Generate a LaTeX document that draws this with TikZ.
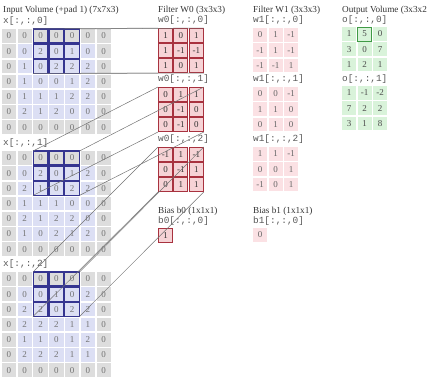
\documentclass[tikz,border=0pt]{standalone}
\usepackage{fontspec}
\setmainfont{Liberation Serif}
\setmonofont{Liberation Mono}
\definecolor{padc}{HTML}{DDDDDD}
\definecolor{inc}{HTML}{DCDFF4}
\definecolor{wc}{HTML}{F6D3D6}
\definecolor{wline}{HTML}{A8323F}
\definecolor{wonec}{HTML}{FBE1E4}
\definecolor{oc}{HTML}{D9F3DA}
\definecolor{oline}{HTML}{3F9A45}
\definecolor{winline}{HTML}{353590}
\definecolor{linkc}{gray}{0.45}
\tikzset{
  capt/.style={font=\fontsize{9.2}{10}\selectfont,text=black!80,anchor=west,inner sep=0pt},
  lab/.style={font=\ttfamily\fontsize{9.4}{10}\selectfont,text=black!65,anchor=west,inner sep=0pt},
  cell/.style={rectangle,inner sep=0pt,minimum width=14pt,minimum height=13.6pt,anchor=north west,font=\fontsize{9}{10}\selectfont},
  incell/.style={cell,minimum width=14.4pt,text=black!55},
  wcell/.style={cell,fill=wc,draw=wline,line width=1pt,text=black!80},
  wonecell/.style={cell,fill=wonec,text=black!60},
  ocell/.style={cell,fill=oc,text=black!70},
  winbox/.style={draw=winline,line width=1.2pt},
  obox/.style={draw=oline,line width=0.9pt},
  link/.style={draw=linkc,line width=0.5pt},
}
\begin{document}
\begin{tikzpicture}[x=1pt,y=1pt]
  \useasboundingbox (0,0) rectangle (429,-381);
  % input volume
  \node[capt] (tin) at (3,-10) {Input Volume (+pad 1) (7x7x3)};
  \begin{scope}[yshift=-29pt]
  \node[lab] (lxa) at (3,8) {x[:,:,0]};
  \foreach \row [count=\r from 0] in {{0,0,0,0,0,0,0},{0,0,2,0,1,0,0},{0,1,0,2,2,2,0},{0,1,0,0,1,2,0},{0,1,1,1,2,2,0},{0,2,1,2,0,0,0},{0,0,0,0,0,0,0}}{
    \foreach \v [count=\c from 0] in \row {
      \pgfmathtruncatemacro\edge{(\r==0)||(\r==6)||(\c==0)||(\c==6)}
      \ifnum\edge=1 \def\cellc{padc}\else\def\cellc{inc}\fi
      \node[incell,fill=\cellc] (xa-\r-\c) at (1.5+15.8*\c,-15.2*\r) {\v};
    }
  }
  \end{scope}
  \begin{scope}[yshift=-151pt]
  \node[lab] (lxb) at (3,8) {x[:,:,1]};
  \foreach \row [count=\r from 0] in {{0,0,0,0,0,0,0},{0,0,2,0,1,2,0},{0,2,1,0,2,2,0},{0,1,1,1,0,0,0},{0,2,1,2,2,0,0},{0,1,0,2,1,2,0},{0,0,0,0,0,0,0}}{
    \foreach \v [count=\c from 0] in \row {
      \pgfmathtruncatemacro\edge{(\r==0)||(\r==6)||(\c==0)||(\c==6)}
      \ifnum\edge=1 \def\cellc{padc}\else\def\cellc{inc}\fi
      \node[incell,fill=\cellc] (xb-\r-\c) at (1.5+15.8*\c,-15.2*\r) {\v};
    }
  }
  \end{scope}
  \begin{scope}[yshift=-272pt]
  \node[lab] (lxc) at (3,8) {x[:,:,2]};
  \foreach \row [count=\r from 0] in {{0,0,0,0,0,0,0},{0,0,0,1,0,2,0},{0,2,2,0,2,2,0},{0,2,2,2,1,1,0},{0,1,1,0,1,2,0},{0,2,2,2,1,1,0},{0,0,0,0,0,0,0}}{
    \foreach \v [count=\c from 0] in \row {
      \pgfmathtruncatemacro\edge{(\r==0)||(\r==6)||(\c==0)||(\c==6)}
      \ifnum\edge=1 \def\cellc{padc}\else\def\cellc{inc}\fi
      \node[incell,fill=\cellc] (xc-\r-\c) at (1.5+15.8*\c,-15.2*\r) {\v};
    }
  }
  \end{scope}
  % filter w0
  \node[capt] (twa) at (158,-10) {Filter W0 (3x3x3)};
  \begin{scope}[yshift=-28pt]
  \node[lab] (lwa) at (158,8) {w0[:,:,0]};
  \foreach \row [count=\r from 0] in {{1,0,1},{1,-1,-1},{1,0,1}}{
    \foreach \v [count=\c from 0] in \row
      \node[wcell] (wa-\r-\c) at (158+15.4*\c,-15.2*\r) {\v};
  }
  \end{scope}
  \begin{scope}[yshift=-87pt]
  \node[lab] (lwb) at (158,8) {w0[:,:,1]};
  \foreach \row [count=\r from 0] in {{0,1,1},{0,-1,0},{0,-1,0}}{
    \foreach \v [count=\c from 0] in \row
      \node[wcell] (wb-\r-\c) at (158+15.4*\c,-15.2*\r) {\v};
  }
  \end{scope}
  \begin{scope}[yshift=-147pt]
  \node[lab] (lwc) at (158,8) {w0[:,:,2]};
  \foreach \row [count=\r from 0] in {{-1,1,-1},{0,-1,1},{0,1,1}}{
    \foreach \v [count=\c from 0] in \row
      \node[wcell] (wc-\r-\c) at (158+15.4*\c,-15.2*\r) {\v};
  }
  \end{scope}
  \node[capt] (tba) at (158,-211) {Bias b0 (1x1x1)};
  \node[lab] (lba) at (158,-221) {b0[:,:,0]};
  \node[wcell] (ba) at (158,-228) {1};
  % filter w1
  \node[capt] (twd) at (253,-10) {Filter W1 (3x3x3)};
  \begin{scope}[yshift=-28pt]
  \node[lab] (lwd) at (253,8) {w1[:,:,0]};
  \foreach \row [count=\r from 0] in {{0,1,-1},{-1,1,-1},{-1,-1,1}}{
    \foreach \v [count=\c from 0] in \row
      \node[wonecell] (wd-\r-\c) at (253+15.4*\c,-15.2*\r) {\v};
  }
  \end{scope}
  \begin{scope}[yshift=-87pt]
  \node[lab] (lwe) at (253,8) {w1[:,:,1]};
  \foreach \row [count=\r from 0] in {{0,0,-1},{1,1,0},{0,1,0}}{
    \foreach \v [count=\c from 0] in \row
      \node[wonecell] (we-\r-\c) at (253+15.4*\c,-15.2*\r) {\v};
  }
  \end{scope}
  \begin{scope}[yshift=-147pt]
  \node[lab] (lwf) at (253,8) {w1[:,:,2]};
  \foreach \row [count=\r from 0] in {{1,1,-1},{0,0,1},{-1,0,1}}{
    \foreach \v [count=\c from 0] in \row
      \node[wonecell] (wf-\r-\c) at (253+15.4*\c,-15.2*\r) {\v};
  }
  \end{scope}
  \node[capt] (tbb) at (253,-211) {Bias b1 (1x1x1)};
  \node[lab] (lbb) at (253,-221) {b1[:,:,0]};
  \node[wonecell] (bb) at (253,-228) {0};
  % output volume
  \node[capt] (tout) at (342,-10) {Output Volume (3x3x2};
  \begin{scope}[yshift=-27pt]
  \node[lab] (loa) at (342,7) {o[:,:,0]};
  \foreach \row [count=\r from 0] in {{1,5,0},{3,0,7},{1,2,1}}{
    \foreach \v [count=\c from 0] in \row
      \node[ocell] (oa-\r-\c) at (342+15.4*\c,-15.2*\r) {\v};
  }
  \end{scope}
  \begin{scope}[yshift=-86pt]
  \node[lab] (lob) at (342,7) {o[:,:,1]};
  \foreach \row [count=\r from 0] in {{1,-1,-2},{7,2,2},{3,1,8}}{
    \foreach \v [count=\c from 0] in \row
      \node[ocell] (ob-\r-\c) at (342+15.4*\c,-15.2*\r) {\v};
  }
  \end{scope}
  \draw[obox] (oa-0-1.north west) rectangle (oa-0-1.south east);
  % receptive field
  \foreach \s in {xa,xb,xc}{
    \foreach \r in {0,1,2}{
      \foreach \c in {2,3,4}
        \draw[winbox] (\s-\r-\c.north west) rectangle (\s-\r-\c.south east);
    }
  }
  % links to the filter
  \draw[link] (xa-0-2.north west) -- (wa-0-0.north west);
  \draw[link] (xa-0-4.north east) -- (wa-0-2.north east);
  \draw[link] (xa-2-2.south west) -- (wa-2-0.south west);
  \draw[link] (xa-2-4.south east) -- (wa-2-2.south east);
  \draw[link] (xb-0-2.north west) -- (wb-0-0.north west);
  \draw[link] (xb-0-4.north east) -- (wb-0-2.north east);
  \draw[link] (xb-2-2.south west) -- (wb-2-0.south west);
  \draw[link] (xb-2-4.south east) -- (wb-2-2.south east);
  \draw[link] (xc-0-2.north west) -- (wc-0-0.north west);
  \draw[link] (xc-0-4.north east) -- (wc-0-2.north east);
  \draw[link] (xc-2-2.south west) -- (wc-2-0.south west);
  \draw[link] (xc-2-4.south east) -- (wc-2-2.south east);
\end{tikzpicture}
\end{document}
